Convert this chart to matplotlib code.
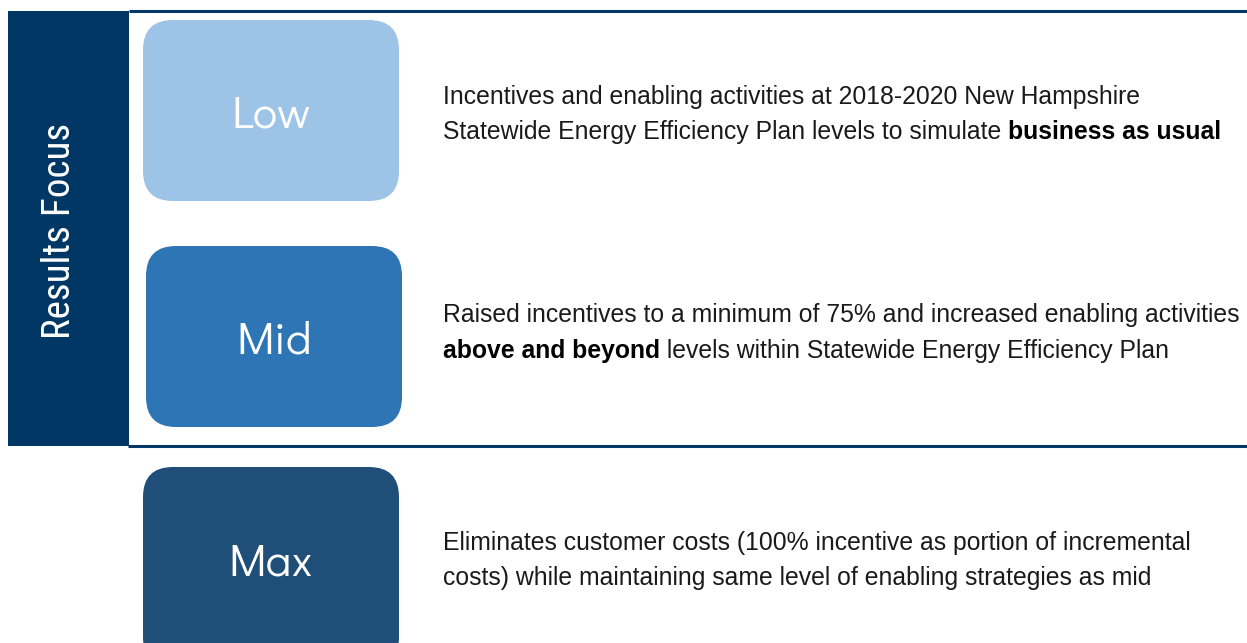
import matplotlib
matplotlib.use("Agg")
import matplotlib.pyplot as plt
from matplotlib.patches import FancyBboxPatch, Rectangle
from matplotlib import font_manager as fm

# ---- data ----
levels = ["Low", "Mid", "Max"]
box_colors = ["#9DC3E6", "#2E75B6", "#1F4E79"]
desc_normal = [
    ["Incentives and enabling activities at 2018-2020 New Hampshire",
     "Statewide Energy Efficiency Plan levels to simulate "],
    ["Raised incentives to a minimum of 75% and increased enabling activities",
     ""],
    ["Eliminates customer costs (100% incentive as portion of incremental",
     "costs) while maintaining same level of enabling strategies as mid"],
]
desc_bold = [["", "business as usual"], ["", "above and beyond"], ["", ""]]
desc_after = [["", ""], ["", " levels within Statewide Energy Efficiency Plan"], ["", ""]]
side_label = "Results Focus"


def pick(cands, default="DejaVu Sans"):
    for c in cands:
        try:
            fm.findfont(fm.FontProperties(family=c), fallback_to_default=False)
            return c
        except Exception:
            continue
    return default


narrow_font = pick(["Liberation Sans Narrow", "Arial Narrow", "Roboto Condensed",
                    "Archivo Narrow", "PT Sans Narrow", "Pragati Narrow",
                    "IBM Plex Sans Condensed", "Liberation Sans"])
gothic_font = pick(["Century Gothic", "URW Gothic", "Didact Gothic", "Questrial",
                    "Jost", "Lato"])
desc_font = pick(["Liberation Sans", "Arimo", "DejaVu Sans"])

W, H = 1247, 643
fig = plt.figure(figsize=(W / 100, H / 100), dpi=100)
ax = fig.add_axes([0, 0, 1, 1])
ax.set_xlim(0, W)
ax.set_ylim(H, 0)
ax.axis("off")
fig.canvas.draw()
renderer = fig.canvas.get_renderer()

navy = "#003764"
ax.add_patch(Rectangle((8, 11), 121, 435, facecolor=navy, edgecolor="none"))
ax.plot([129, W], [11, 11], color=navy, lw=2.2, solid_capstyle="butt")
ax.plot([128, W], [446, 446], color=navy, lw=2.2, solid_capstyle="butt")

# side label, sized to span ~217 px
st = ax.text(59, 231, side_label, rotation=90, color="white", fontsize=24,
             ha="center", va="center", family=[narrow_font, "DejaVu Sans"])
bb = st.get_window_extent(renderer=renderer)
st.set_fontsize(24 * 217.0 / bb.height)

box_x = [143, 146, 143]
box_y = [20, 246, 467]
box_w, box_h = 256, 181
for i, lv in enumerate(levels):
    h = box_h if i < 2 else 200
    ax.add_patch(FancyBboxPatch((box_x[i], box_y[i]), box_w, h,
                                boxstyle="round,pad=0,rounding_size=30",
                                facecolor=box_colors[i], edgecolor="none"))
    ax.text(box_x[i] + 128, box_y[i] + 108, lv, color="white",
            fontsize=33, ha="center", va="baseline",
            family=[gothic_font, "DejaVu Sans"])

# description text, sized so the first line spans ~700 px
probe = ax.text(0, 0, desc_normal[0][0], fontsize=17, family=desc_font)
pw = probe.get_window_extent(renderer=renderer).width
probe.remove()
dsize = min(17 * 700.0 / pw, 18.0)

text_x = 443
baselines = [[104, 139], [322, 358], [550, 585]]
inv = ax.transData.inverted()
for i in range(3):
    for j in range(2):
        y = baselines[i][j]
        x = text_x
        for part, weight, col in [(desc_normal[i][j], "normal", "#1a1a1a"),
                                  (desc_bold[i][j], "bold", "black"),
                                  (desc_after[i][j], "normal", "#1a1a1a")]:
            if not part:
                continue
            t = ax.text(x, y, part, fontsize=dsize, fontweight=weight, color=col,
                        ha="left", va="baseline", family=[desc_font, "DejaVu Sans"])
            tb = t.get_window_extent(renderer=renderer)
            x = inv.transform((tb.x1, tb.y0))[0]

fig.savefig("out.png", dpi=100)
